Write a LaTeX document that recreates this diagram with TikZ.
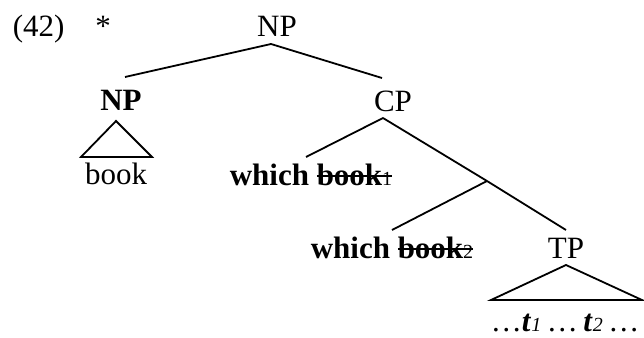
\documentclass[tikz,border=0pt]{standalone}
\usepackage{fontspec}
\setmainfont{Liberation Serif}
\usepackage{tikz}

\newcommand{\struck}[1]{\setbox0=\hbox{#1}\rlap{\rule[0.26em]{\wd0}{0.06em}}\box0}
\newcommand{\idx}[1]{{\fontsize{20}{20}\selectfont #1}}

\begin{document}
\begin{tikzpicture}[x=1pt,y=-1pt,line width=1.8pt,
    lab/.style={font=\fontsize{31}{37}\selectfont,inner sep=0pt,outer ysep=7pt,
                anchor=base,text height=21pt,text depth=0pt}]
    \useasboundingbox (0,0) rectangle (644,337);
    \node[lab,anchor=base west] (ex) at (12,37) {(42)};
    \node[lab] (star) at (103,37) {*};
    \node[lab] (np) at (277,37) {NP};
    \node[lab] (npb) at (121,110) {\textbf{NP}};
    \node[lab] (cp) at (393,111) {CP};
    \node[lab] (book) at (116,184) {book};
    \node[lab] (wb1) at (311,185) {\textbf{which \struck{book\idx{\mdseries 1}}}};
    \coordinate (cbar) at (487,181);
    \node[lab] (wb2) at (392,258) {\textbf{which \struck{book\idx{\mdseries 2}}}};
    \node[lab] (tp) at (566,258) {TP};
    \node[lab,anchor=base west] (trace) at (490,331)
        {…\textbf{\textit{t}}\idx{\itshape 1}\hspace{0.18em}…\hspace{0.18em}\textbf{\textit{t}}\idx{\itshape 2}\hspace{0.18em}…};
    \draw ([xshift=-6pt]np.south) -- ([xshift=4pt,yshift=5pt]npb.north);
    \draw ([xshift=-6pt]np.south) -- ([xshift=-11pt,yshift=5pt]cp.north);
    \draw ([xshift=-5pt,yshift=-4pt]npb.south) -- ++(-35,36) -- ++(71,0) -- cycle;
    \draw ([xshift=-10pt]cp.south) -- ([xshift=-5pt]wb1.north);
    \draw ([xshift=-10pt]cp.south) -- (cbar);
    \draw (cbar) -- (wb2.north);
    \draw (cbar) -- (tp.north);
    \draw (tp.south) -- ++(-75,35) -- ++(151,0) -- cycle;
\end{tikzpicture}
\end{document}
